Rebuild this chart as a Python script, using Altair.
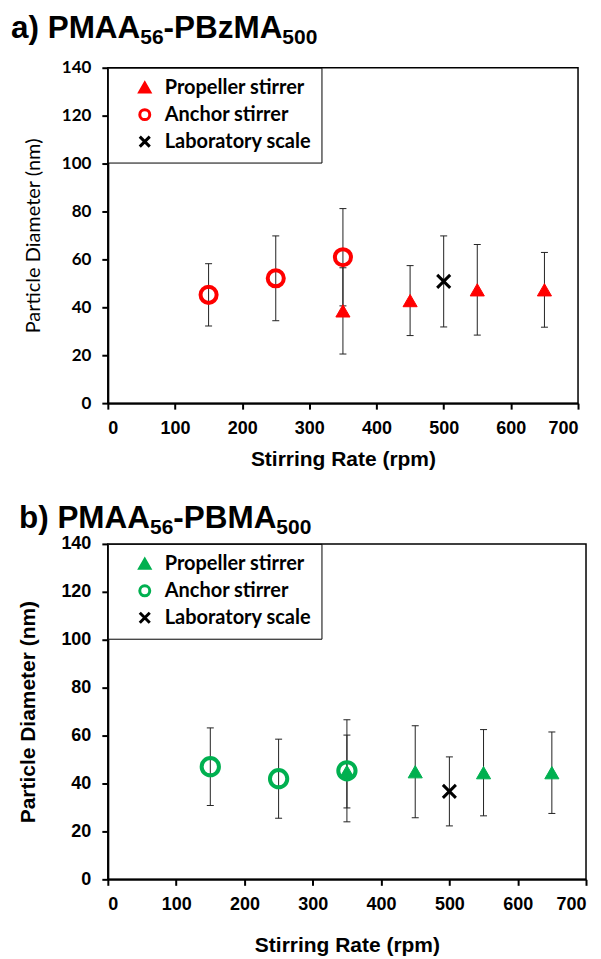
import altair as alt
import pandas as pd

series_names = ["Propeller stirrer", "Anchor stirrer", "Laboratory scale"]

# Panel a) PMAA56-PBzMA500
a_series = ["Propeller stirrer"] * 4 + ["Anchor stirrer"] * 3 + ["Laboratory scale"]
a_rate = [350, 450, 550, 650, 150, 250, 350, 500]
a_diam = [38.5, 42.8, 47.3, 47.3, 45.2, 52.1, 60.9, 50.8]
a_err = [18.0, 14.6, 18.9, 15.6, 13.0, 17.7, 20.3, 19.0]
a_title = ["a) PMAA", "56", "-PBzMA", "500"]

# Panel b) PMAA56-PBMA500
b_series = ["Propeller stirrer"] * 4 + ["Anchor stirrer"] * 3 + ["Laboratory scale"]
b_rate = [350, 450, 550, 650, 150, 250, 350, 500]
b_diam = [45.0, 44.9, 44.5, 44.5, 47.0, 42.0, 45.3, 36.7]
b_err = [15.2, 19.2, 18.0, 17.0, 16.2, 16.5, 21.3, 14.4]
b_title = ["b) PMAA", "56", "-PBMA", "500"]

x_ticks = [0, 100, 200, 300, 400, 500, 600, 700]
y_ticks = [0, 20, 40, 60, 80, 100, 120, 140]

CROSS = "M-1,-1L1,1M-1,1L1,-1"

# Liberation Sans Bold (Arial-metric) advance widths, per 1000 em
ADV = {"a": 556, "b": 611, ")": 333, " ": 278, "P": 667, "M": 833, "A": 722,
       "B": 722, "z": 500, "-": 333, "5": 556, "6": 556, "0": 556}
MAIN_FS = 31.5
SUB_FS = 21


def text_width(s, fs):
    return sum(ADV.get(c, 556) for c in s) * fs / 1000.0


def title_layers(pieces, x0, base_y):
    layers = []
    x = x0
    for i, piece in enumerate(pieces):
        sub = i % 2 == 1
        fs = SUB_FS if sub else MAIN_FS
        y = base_y + (6 if sub else 0)
        layers.append(
            alt.Chart(pd.DataFrame({"t": [piece]})).mark_text(
                align="left", baseline="alphabetic", font="Liberation Sans",
                fontWeight="bold", fontSize=fs, color="black"
            ).encode(x=alt.value(x), y=alt.value(y), text="t:N")
        )
        x += text_width(piece, fs)
    return layers


def panel(series, rate, diam, err, pieces, title_x, title_y, color, w, h,
          yfont, yweight, ytitle_size, ylabel_size, xtitle_pad, ytitle_pad,
          circ_size):
    df = pd.DataFrame({"s": series, "rate": rate, "d": diam, "e": err})
    base = alt.Chart(df).transform_calculate(
        lo="datum.d - datum.e", hi="datum.d + datum.e"
    )
    xax = alt.Axis(values=x_ticks, title="Stirring Rate (rpm)", grid=False,
                   labelFont="Liberation Sans", labelFontSize=18,
                   labelFontWeight="bold", labelColor="black", labelPadding=10,
                   titleFont="Liberation Sans", titleFontSize=21,
                   titleFontWeight="bold", titleColor="black",
                   titlePadding=xtitle_pad, tickSize=6)
    yax = alt.Axis(values=y_ticks, title="Particle Diameter (nm)", grid=False,
                   labelFont=yfont, labelFontSize=ylabel_size,
                   labelFontWeight="bold", labelColor="black", labelPadding=11,
                   titleFont=yfont, titleFontSize=ytitle_size,
                   titleFontWeight=yweight, titleColor="black",
                   titlePadding=ytitle_pad, tickSize=6)
    xs = alt.Scale(domain=[0, 700], nice=False)
    ys = alt.Scale(domain=[0, 140], nice=False)

    rules = base.mark_rule(color="#222222", strokeWidth=1).encode(
        x=alt.X("rate:Q", scale=xs, axis=xax),
        y=alt.Y("lo:Q", scale=ys, axis=yax),
        y2="hi:Q",
    )
    cap_lo = base.mark_tick(orient="horizontal", size=7, thickness=1,
                            color="#222222", opacity=1).encode(
        x=alt.X("rate:Q", scale=xs, axis=xax),
        y=alt.Y("lo:Q", scale=ys, axis=yax),
    )
    cap_hi = base.mark_tick(orient="horizontal", size=7, thickness=1,
                            color="#222222", opacity=1).encode(
        x=alt.X("rate:Q", scale=xs, axis=xax),
        y=alt.Y("hi:Q", scale=ys, axis=yax),
    )

    legend = alt.Legend(
        title=None, orient="top-left", offset=0, strokeColor="black",
        fillColor="white", padding=10, rowPadding=5, symbolOffset=17,
        labelOffset=10, labelFont="Lato", labelFontSize=20,
        labelFontWeight="bold", labelColor="black", symbolSize=100,
        symbolStrokeWidth=3, symbolOpacity=1,
    )
    shape_s = alt.Scale(domain=series_names,
                        range=["triangle-up", "circle", CROSS])
    stroke_s = alt.Scale(domain=series_names, range=[color, color, "black"])
    fill_s = alt.Scale(domain=series_names,
                       range=[color, "transparent", "transparent"])

    def pts(name, size, sw):
        return base.transform_filter(alt.datum.s == name).mark_point(
            size=size, strokeWidth=sw, opacity=1
        ).encode(
            x=alt.X("rate:Q", scale=xs, axis=xax),
            y=alt.Y("d:Q", scale=ys, axis=yax),
            shape=alt.Shape("s:N", scale=shape_s, legend=legend),
            stroke=alt.Stroke("s:N", scale=stroke_s, legend=legend),
            fill=alt.Fill("s:N", scale=fill_s, legend=legend),
        )

    layers = alt.layer(
        rules, cap_lo, cap_hi,
        pts("Anchor stirrer", circ_size, 4),
        pts("Propeller stirrer", 200, 1),
        pts("Laboratory scale", 170, 3),
        *title_layers(pieces, title_x, title_y),
    ).properties(width=w, height=h)
    return layers


chart_a = panel(a_series, a_rate, a_diam, a_err, a_title, -97, -30,
                "#ff0000", 471, 336, "Lato", "normal", 20, 17, 11, 18, 260)
chart_b = panel(b_series, b_rate, b_diam, b_err, b_title, -89, -16,
                "#00b050", 479, 336, "Liberation Sans", "bold", 21, 18, 21, 22,
                300)

chart = alt.vconcat(chart_a, chart_b, spacing=32).resolve_scale(
    shape="independent", stroke="independent", fill="independent"
).configure(
    padding={"left": 2, "top": 3, "right": 5, "bottom": 2}
).configure_view(
    stroke="black", strokeWidth=1.5
).configure_axis(
    domainColor="black", domainWidth=2, tickColor="black", tickWidth=2
)

chart.save("out.html", embed_options={"renderer": "svg", "actions": False})
